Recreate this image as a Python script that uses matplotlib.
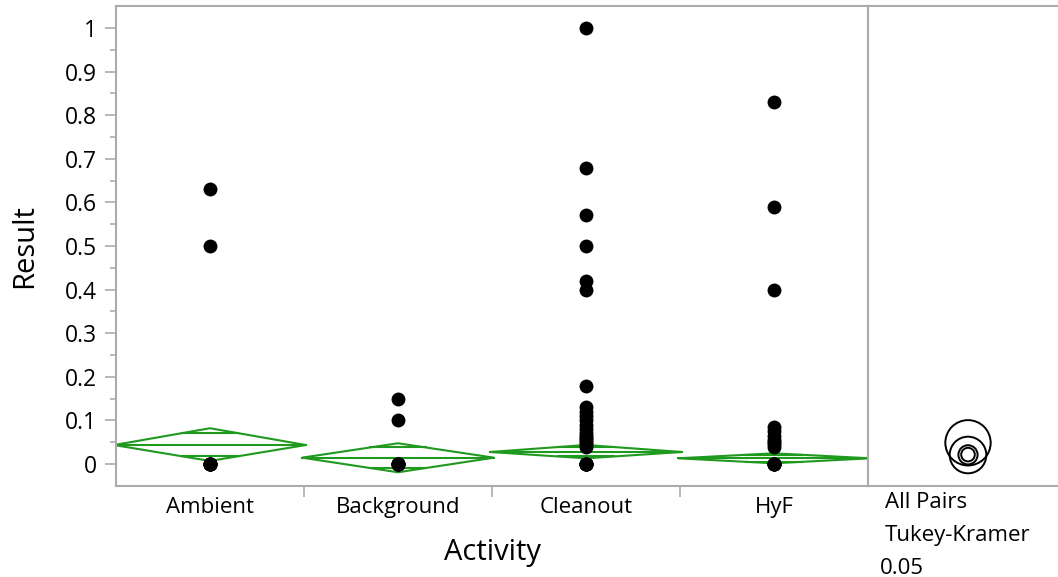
import numpy as np
import matplotlib
matplotlib.use("Agg")
import matplotlib.pyplot as plt
from matplotlib.patches import Polygon, Circle

plt.rcParams['font.family'] = ['Open Sans', 'DejaVu Sans']

# ---- data ----
categories = ["Ambient", "Background", "Cleanout", "HyF"]
ambient_vals = [0.63, 0.50, 0.0, 0.0, 0.0, 0.0, 0.0, 0.0]
background_vals = [0.148, 0.10, 0.0, 0.0, 0.0, 0.0, 0.0, 0.0]
cleanout_vals = [1.0, 0.68, 0.57, 0.50, 0.42, 0.40, 0.178, 0.13, 0.12, 0.11, 0.10,
                 0.09, 0.08, 0.07, 0.065, 0.06, 0.055, 0.05, 0.045, 0.04,
                 0.0, 0.0, 0.0, 0.0, 0.0, 0.0]
hyf_vals = [0.83, 0.59, 0.40, 0.085, 0.075, 0.065, 0.055, 0.05, 0.045, 0.04,
            0.0, 0.0, 0.0, 0.0, 0.0]
group_values = [ambient_vals, background_vals, cleanout_vals, hyf_vals]

means = [0.0435, 0.0145, 0.0275, 0.013]
ci_upper = [0.082, 0.0475, 0.0436, 0.0245]
ci_lower = [0.007, -0.019, 0.013, 0.0016]

circle_centers = [0.0486, 0.0206, 0.0215, 0.021]
circle_radii = [0.052, 0.042, 0.0156, 0.022]

y_ticks = [0, 0.1, 0.2, 0.3, 0.4, 0.5, 0.6, 0.7, 0.8, 0.9, 1]
y_ticklabels = ["0", "0.1", "0.2", "0.3", "0.4", "0.5", "0.6", "0.7", "0.8", "0.9", "1"]

# ---- figure ----
W, H = 1058, 577
fig = plt.figure(figsize=(W / 100, H / 100), dpi=100)
frame_col = "#ababab"
green = "#1f9a1f"
tick_fs = 16
label_fs = 21

x0, x1, xr = 116, 868, 1058
ytop, ybot = 6, 486
ax = fig.add_axes([x0 / W, (H - ybot) / H, (x1 - x0) / W, (ybot - ytop) / H])
ax2 = fig.add_axes([x1 / W, (H - ybot) / H, (xr - x1) / W, (ybot - ytop) / H], sharey=ax)

ylo, yhi = -0.0505, 1.0505
ax.set_ylim(ylo, yhi)
ax.set_xlim(-0.5, len(categories) - 0.5)

for sp in ax.spines.values():
    sp.set_color(frame_col)
    sp.set_linewidth(1.5)
for sp in ax2.spines.values():
    sp.set_color(frame_col)
    sp.set_linewidth(1.5)
ax2.spines['right'].set_visible(False)

# diamonds
half = 0.51
lw_d = 1.5
for i, (m, u, l) in enumerate(zip(means, ci_upper, ci_lower)):
    poly = Polygon([(i - half, m), (i, u), (i + half, m), (i, l)], closed=True,
                   fill=False, edgecolor=green, linewidth=lw_d, zorder=2)
    ax.add_patch(poly)
    ax.plot([i - half, i + half], [m, m], color=green, linewidth=lw_d, zorder=2)
    f = 1 / np.sqrt(2)
    hw = half * (1 - f)
    for yy in (m + (u - m) * f, m - (m - l) * f):
        ax.plot([i - hw, i + hw], [yy, yy], color=green, linewidth=lw_d, zorder=2)

# points
for i, vals in enumerate(group_values):
    ax.plot([i] * len(vals), vals, 'o', color='black', markersize=10,
            markeredgewidth=0, zorder=3, clip_on=False)

ax.set_yticks(y_ticks)
ax.set_yticklabels(y_ticklabels)
ax.set_yticks(np.arange(0.05, 1.0, 0.1), minor=True)
ax.tick_params(axis='y', which='major', length=8, width=1.2, color=frame_col,
               labelsize=16.5, pad=6)
ax.tick_params(axis='y', which='minor', length=4, width=1.2, color=frame_col)

ax.set_xticks(range(len(categories)))
ax.set_xticklabels(categories)
ax.set_xticks([0.5, 1.5, 2.5], minor=True)
ax.tick_params(axis='x', which='major', length=0, labelsize=tick_fs, pad=8)
ax.tick_params(axis='x', which='minor', length=8, width=1.2, color=frame_col)

ax.set_ylabel("Result", fontsize=label_fs, labelpad=18)
ax.set_xlabel("Activity", fontsize=label_fs, labelpad=14)

# comparison circles panel (equal aspect in pixels)
px_per_unit = (ybot - ytop) / (yhi - ylo)
xspan = (xr - x1) / px_per_unit
ax2.set_xlim(0, xspan)
cx = (968 - x1) / px_per_unit
for c, r in zip(circle_centers, circle_radii):
    ax2.add_patch(Circle((cx, c), r, fill=False, edgecolor='black', linewidth=1.4))
ax2.set_xticks([])
ax2.tick_params(axis='y', which='both', left=False, labelleft=False)

fig.text(885 / W, 1 - 503 / H, "All Pairs", fontsize=tick_fs, ha='left', va='center')
fig.text(885 / W, 1 - 536 / H, "Tukey-Kramer", fontsize=tick_fs, ha='left', va='center')
fig.text(880 / W, 1 - 568 / H, "0.05", fontsize=tick_fs, ha='left', va='center')

fig.savefig("out.png", dpi=100)
